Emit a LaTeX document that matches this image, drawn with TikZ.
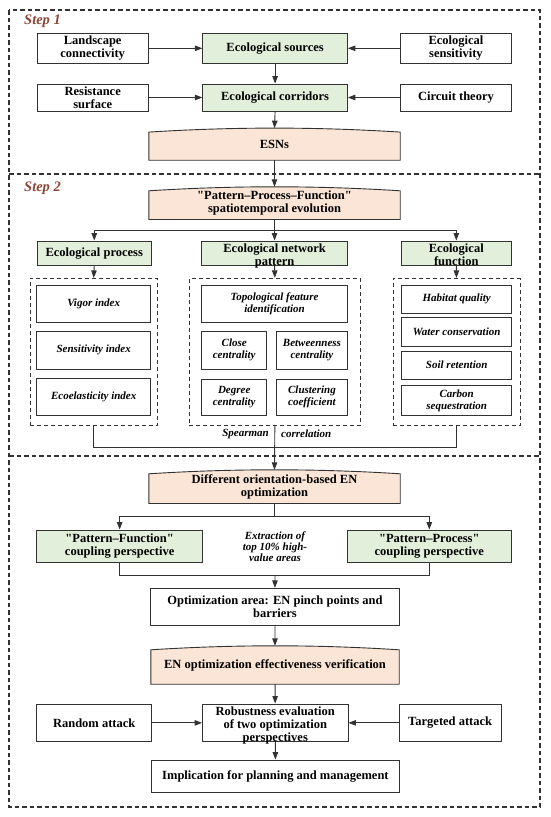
\documentclass[tikz,border=0pt]{standalone}
\usepackage{fontspec}
\setmainfont{Liberation Serif}[Ligatures=TeXOff]
\usetikzlibrary{arrows.meta,calc}
\pgfdeclarelayer{bottom}
\pgfdeclarelayer{background}
\pgfsetlayers{bottom,background,main}
\definecolor{linec}{RGB}{50,50,50}
\definecolor{greenf}{RGB}{226,239,218}
\definecolor{peachf}{RGB}{251,229,214}
\definecolor{stepc}{RGB}{140,70,55}
\newcommand\bx[7]{\node[#6, minimum width={(#4)-(#2)}, minimum height={(#5)-(#3)}] (#1) at ({((#2)+(#4))/2},{((#3)+(#5))/2}) {#7};}
\newcommand\ctext[2]{\raisebox{#1}[0pt][0pt]{\begin{tabular}{@{}c@{}}#2\end{tabular}}}
\newcommand\curvebg[1]{\begin{pgfonlayer}{background}\filldraw[fill=peachf, draw=linec, line width=0.9pt] (#1.south west) -- ([yshift=-4pt]#1.north west) .. controls ([xshift=84pt,yshift=1.33pt]#1.north west) and ([xshift=-84pt,yshift=1.33pt]#1.north east) .. ([yshift=-4pt]#1.north east) -- (#1.south east) -- cycle;\end{pgfonlayer}}
\tikzset{
  box/.style={draw=linec, line width=0.9pt, fill=white, align=center, inner sep=0pt, font=\bfseries\fontsize{12.5}{13}\selectfont},
  gbox/.style={fill=greenf},
  ibox/.style={font=\bfseries\itshape\fontsize{11}{12}\selectfont},
  dbox/.style={draw=linec, line width=0.8pt, dash pattern=on 4pt off 3pt, inner sep=0pt},
  curvy/.style={align=center, inner sep=0pt, font=\bfseries\fontsize{12.5}{13.3}\selectfont},
  itxt/.style={font=\bfseries\itshape\fontsize{11}{11}\selectfont, inner sep=0pt, align=center},
  steplab/.style={font=\bfseries\itshape\fontsize{14.5}{14.5}\selectfont, text=stepc, inner sep=0pt, anchor=west},
  arr/.style={draw=linec, line width=0.9pt, -{Triangle[length=7.5pt,width=5.5pt]}},
  ln/.style={draw=linec, line width=0.9pt},
  frame/.style={draw=linec, line width=1.1pt, dash pattern=on 4.5pt off 3pt}
}
\begin{document}
\begin{tikzpicture}[x=1pt,y=-1pt]
\begin{pgfonlayer}{bottom}
\fill[white] (0,0) rectangle (550,817);
\end{pgfonlayer}
\useasboundingbox (0,0) rectangle (550,817);
% frames
\draw[frame] (9,10) rectangle (540,807);
\draw[frame] (9,174) -- (540,174);
\draw[frame] (9,456) -- (540,456);
\node[steplab] (s1) at (24,21) {Step 1};
\node[steplab] (s2) at (24,188) {Step 2};
% step 1
\bx{land}{37}{33.3}{148.4}{63.3}{box}{Landscape\\connectivity}
\bx{src}{202.8}{33.3}{347.4}{63.3}{box,gbox}{Ecological sources}
\bx{sens}{400.7}{33.3}{511.2}{63.3}{box}{Ecological\\sensitivity}
\bx{res}{37}{84}{148.4}{111}{box}{Resistance\\surface}
\bx{cor}{202.8}{84}{347.4}{111}{box,gbox}{Ecological corridors}
\bx{circ}{400.7}{84}{511.2}{111}{box}{Circuit theory}
\bx{esns}{149}{128.3}{400}{160}{curvy}{ESNs}
\curvebg{esns}
% step 2
\bx{ppf}{149}{187}{400}{219.3}{curvy}{"Pattern–Process–Function"\\spatiotemporal evolution}
\curvebg{ppf}
\bx{proc}{37.5}{241}{151}{265.5}{box,gbox}{Ecological process}
\bx{pat}{201.8}{241}{347.4}{265.5}{box,gbox}{\ctext{-6pt}{Ecological network\\pattern}}
\bx{func}{401}{241}{511.6}{265.5}{box,gbox}{\ctext{-6pt}{Ecological\\function}}
\bx{dproc}{30}{278.3}{157.3}{425.7}{dbox}{}
\bx{dpat}{189.3}{278.3}{360.4}{425.7}{dbox}{}
\bx{dfun}{393}{278.3}{520}{425.7}{dbox}{}
\bx{vig}{36.7}{285.7}{150.7}{322.3}{box,ibox}{Vigor index}
\bx{sen}{36.7}{331.7}{150.7}{369}{box,ibox}{Sensitivity index}
\bx{eco}{36.7}{378.3}{150.7}{415.3}{box,ibox}{Ecoelasticity index}
\bx{topo}{201.7}{285.7}{347.4}{322.3}{box,ibox}{Topological feature\\identification}
\bx{clo}{201.7}{331.7}{266.7}{369}{box,ibox}{Close\\centrality}
\bx{bet}{276.5}{331.7}{347.4}{369}{box,ibox}{Betweenness\\centrality}
\bx{deg}{201.7}{379}{266.7}{415.3}{box,ibox}{Degree\\centrality}
\bx{clu}{276.5}{379}{347.4}{415.3}{box,ibox}{Clustering\\coefficient}
\bx{hab}{401.8}{285.3}{511.6}{313.3}{box,ibox}{Habitat quality}
\bx{wat}{401.8}{317.7}{511.6}{346.7}{box,ibox}{Water conservation}
\bx{soil}{401.8}{351}{511.6}{379.3}{box,ibox}{Soil retention}
\bx{carb}{401.8}{385.7}{511.6}{415}{box,ibox}{Carbon\\sequestration}
\node[itxt, anchor=east] (spa) at (269,434) {Spearman};
\node[itxt, anchor=west] (corr) at (281,434) {correlation};
% step 3
\bx{diff}{149}{470}{400}{503.3}{curvy}{Different orientation-based EN\\optimization}
\curvebg{diff}
\bx{pf}{36.8}{530}{202.5}{562.3}{box,gbox}{"Pattern–Function"\\coupling perspective}
\bx{pp}{347.4}{530}{511.2}{562.3}{box,gbox}{"Pattern–Process"\\coupling perspective}
\node[itxt] (ext) at (275,547) {Extraction of\\top 10\% high-\\value areas};
\bx{opt}{150.9}{588.3}{399}{625}{box}{Optimization area: EN pinch points and\\barriers}
\bx{ver}{151}{646}{399}{684}{curvy}{EN optimization effectiveness verification}
\curvebg{ver}
\bx{rob}{202.5}{704}{348}{741.7}{box}{\ctext{-6.5pt}{Robustness evaluation\\of two optimization\\perspectives}}
\bx{rand}{36.8}{704}{151.6}{741.7}{box}{Random attack}
\bx{targ}{399.3}{704}{501}{741.7}{box}{Targeted attack}
\bx{impl}{151.6}{760}{399.3}{792.3}{box}{Implication for planning and management}
% connectors step 1
\draw[arr] (land) -- (src);
\draw[arr] (sens) -- (src);
\draw[arr] (src) -- (cor);
\draw[arr] (res) -- (cor);
\draw[arr] (circ) -- (cor);
\draw[arr] (cor.south) -- (esns.north);
\draw[arr] (esns.south) -- (ppf.north);
% step 2
\path (ppf.south) ++(0,11.4) coordinate (br1);
\draw[ln] (ppf.south) -- (br1);
\draw[arr] (br1) -| (proc.north);
\draw[arr] (br1) -- (pat.north);
\draw[arr] (br1) -| (func.north);
\draw[arr] (proc.south) -- (dproc.north);
\draw[arr] (pat.south) -- (dpat.north);
\draw[arr] (func.south) -- (dfun.north);
\path (dpat.south) ++(0,21.6) coordinate (sp);
\draw[ln] (dproc.south) |- (sp) -| (dfun.south);
\draw[arr] (dpat.south) -- (diff.north);
% step 3
\path (diff.south) ++(0,13.4) coordinate (br2);
\draw[ln] (diff.south) -- (br2);
\draw[arr] (br2) -| (pf.north);
\draw[arr] (br2) -| (pp.north);
\coordinate (mg) at (275,575.7);
\draw[ln] (pf.south) |- (mg) -| (pp.south);
\draw[arr] (mg) -- (opt.north);
\draw[arr] (opt) -- (ver);
\draw[arr] (ver) -- (rob);
\draw[arr] (rand) -- (rob);
\draw[arr] (targ) -- (rob);
\draw[arr] (rob) -- (impl);
\end{tikzpicture}
\end{document}
